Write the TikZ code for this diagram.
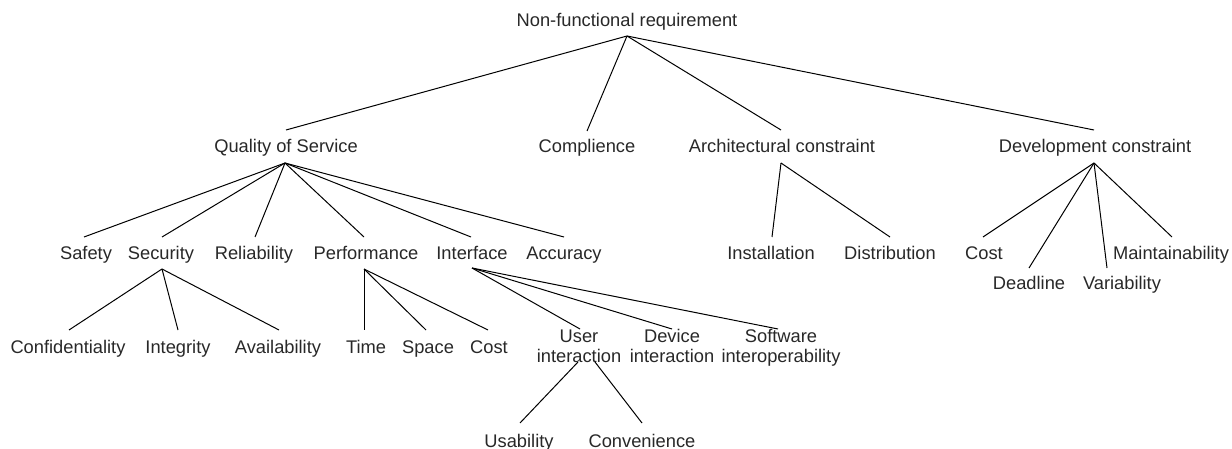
\documentclass[tikz,border=0pt]{standalone}
\usepackage{fontspec}
\setmainfont{Liberation Sans}
\definecolor{txt}{RGB}{40,40,40}
\begin{document}
\begin{tikzpicture}[x=1pt,y=-1pt,
  lbl/.style={inner sep=0pt,anchor=base,text=txt,align=center,
    font=\fontsize{18.3}{20}\selectfont},
  edge/.style={line width=1pt,black}]
\useasboundingbox (0,0) rectangle (1232,449);
% ---- texts
\node[lbl] (root) at (627,27) {Non-functional requirement};
\node[lbl] (qos) at (286,153) {Quality of Service};
\node[lbl] (comp) at (587,153) {Complience};
\node[lbl] (arch) at (782,153) {Architectural constraint};
\node[lbl] (dev) at (1095,153) {Development constraint};
\node[lbl] (safety) at (86,260) {Safety};
\node[lbl] (security) at (161,260) {Security};
\node[lbl] (reliab) at (254,260) {Reliability};
\node[lbl] (perf) at (366,260) {Performance};
\node[lbl] (iface) at (472,260) {Interface};
\node[lbl] (accur) at (564,260) {Accuracy};
\node[lbl] (install) at (771,260) {Installation};
\node[lbl] (distrib) at (890,260) {Distribution};
\node[lbl] (dcost) at (984,260) {Cost};
\node[lbl] (maint) at (1171,260) {Maintainability};
\node[lbl] (deadl) at (1029,289) {Deadline};
\node[lbl] (variab) at (1122,289) {Variability};
\node[lbl] (confid) at (68,353) {Confidentiality};
\node[lbl] (integ) at (178,353) {Integrity};
\node[lbl] (avail) at (278,353) {Availability};
\node[lbl] (time) at (366,353) {Time};
\node[lbl] (space) at (428,353) {Space};
\node[lbl] (pcost) at (489,353) {Cost};
\node[lbl] (userint) at (579,362) {User\\interaction};
\node[lbl] (devint) at (672,362) {Device\\interaction};
\node[lbl] (softint) at (781,362) {Software\\interoperability};
\node[lbl] (usab) at (519,447) {Usability};
\node[lbl] (conv) at (642,447) {Convenience};
% ---- connector end points
\coordinate (rootA) at (627,36);
\coordinate (qosT) at (286,130);
\coordinate (compT) at (587,131);
\coordinate (archT) at (781,130);
\coordinate (devT) at (1094,130);
\coordinate (qosA) at (285,163);
\coordinate (archA) at (781,163);
\coordinate (devA) at (1094,163);
\coordinate (safetyT) at (84,237);
\coordinate (securityT) at (162,237);
\coordinate (reliabT) at (255,237);
\coordinate (perfT) at (364,237);
\coordinate (ifaceT) at (471,237);
\coordinate (accurT) at (564,237);
\coordinate (installT) at (772,237);
\coordinate (distribT) at (890,237);
\coordinate (dcostT) at (983,237);
\coordinate (maintT) at (1172,237);
\coordinate (deadlT) at (1029,268);
\coordinate (variabT) at (1107,268);
\coordinate (securityA) at (162,269);
\coordinate (perfA) at (364,269);
\coordinate (ifaceA) at (472,268);
\coordinate (confidT) at (69,330);
\coordinate (integT) at (178,330);
\coordinate (availT) at (279,330);
\coordinate (timeT) at (364,330);
\coordinate (spaceT) at (426,330);
\coordinate (pcostT) at (488,330);
\coordinate (userintT) at (580,329);
\coordinate (devintT) at (672,329);
\coordinate (softintT) at (778,329);
\coordinate (userintA) at (578,362);
\coordinate (userintB) at (595,362);
\coordinate (usabT) at (520,423);
\coordinate (convT) at (642,423);
% ---- connectors
\foreach \c in {qosT,compT,archT,devT} \draw[edge] (rootA) -- (\c);
\foreach \c in {safetyT,securityT,reliabT,perfT,ifaceT,accurT} \draw[edge] (qosA) -- (\c);
\foreach \c in {installT,distribT} \draw[edge] (archA) -- (\c);
\foreach \c in {dcostT,deadlT,variabT,maintT} \draw[edge] (devA) -- (\c);
\foreach \c in {confidT,integT,availT} \draw[edge] (securityA) -- (\c);
\foreach \c in {timeT,spaceT,pcostT} \draw[edge] (perfA) -- (\c);
\foreach \c in {userintT,devintT,softintT} \draw[edge] (ifaceA) -- (\c);
\draw[edge] (userintA) -- (usabT);
\draw[edge] (userintB) -- (convT);
\end{tikzpicture}
\end{document}
